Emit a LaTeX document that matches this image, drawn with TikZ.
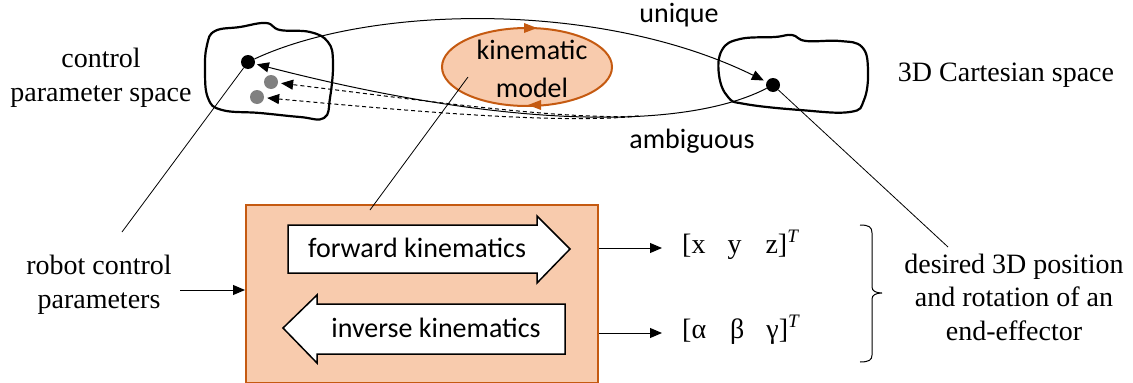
\documentclass[tikz,border=0pt]{standalone}
\usepackage{fontspec}
\setmainfont{Liberation Serif}
\newfontfamily\tnrfont{Liberation Serif}
\newfontfamily\calibri{Carlito}
\usetikzlibrary{arrows.meta,shapes.geometric}
\definecolor{peach}{HTML}{F8CBAD}
\definecolor{rust}{HTML}{C55A11}
\begin{document}
\begin{tikzpicture}[x=1pt,y=-1pt,
  tnrtext/.style={font=\tnrfont\fontsize{28}{33.5}\selectfont, align=center, inner sep=0pt},
  caltext/.style={font=\calibri\fontsize{28}{34}\selectfont, inner sep=0pt},
  blob/.style={draw, line width=2.2pt},
  thinline/.style={line width=0.8pt},
  arr/.style={line width=1pt, -{Triangle[length=12pt,width=10pt]}},
  dashedarr/.style={arr, dash pattern=on 4pt off 3pt},
  dot/.style={circle, fill=black, minimum size=14pt, inner sep=0pt},
  gdot/.style={circle, fill=gray, minimum size=14pt, inner sep=0pt},
  bigarrow/.style={draw, fill=white, line width=1.5pt, line join=miter}
]
\useasboundingbox (0,0) rectangle (1133,383);

% blobs
\draw[blob] plot[smooth cycle, tension=0.7] coordinates {(207,45) (215,31) (240,27) (266,23) (280,30) (310,32) (328,42) (333,62) (330,98) (324,118) (300,117) (260,113) (222,110) (208,98) (205,70)};
\draw[blob] plot[smooth cycle, tension=0.7] coordinates {(722,50) (740,39) (775,37) (792,35) (806,41) (840,41) (862,47) (868,70) (864,100) (850,112) (800,110) (745,104) (728,97) (719,75)};

% dots
\node[dot] (p1) at (248,62) {};
\node[gdot] (g1) at (271,82) {};
\node[gdot] (g2) at (257,97) {};
\node[dot] (p2) at (773,85) {};

% kinematic model ellipse
\node[ellipse, draw=rust, fill=peach, line width=2pt, minimum width=170pt, minimum height=78pt, inner sep=0pt] (km) at (527,67) {};
\node[caltext, align=center, font=\calibri\fontsize{28}{38}\selectfont, anchor=base] (kmt) at (532,97) {kinematic\\model};
\fill[rust] (524,23) -- (537,28) -- (524,33) -- cycle;
\fill[rust] (541,100) -- (528,105) -- (541,110) -- cycle;

% labels top
\node[tnrtext, anchor=base] (cps) at (101,101) {control\\parameter space};
\node[tnrtext, anchor=base] (cart) at (1006,81) {3D Cartesian space};
\node[caltext, anchor=base] (uniq) at (679,22) {unique};
\node[caltext, anchor=base] (amb) at (692,148) {ambiguous};

% curves
\draw[arr, shorten >=3pt] (p1) .. controls (370,5) and (600,0) .. (p2);
\draw[arr, shorten >=2pt] (p2) .. controls (690,128) and (520,132) .. (p1) coordinate[pos=0.38] (split);
\draw[dashedarr, shorten >=3pt] (split) .. controls (560,120) and (420,100) .. (g1);
\draw[dashedarr, shorten >=3pt] (split) .. controls (560,124) and (420,112) .. (g2);

% box
\node[draw=rust, fill=peach, line width=2pt, minimum width=352pt, minimum height=178pt, anchor=north west, inner sep=0pt] (box) at (245,204) {};
\draw[bigarrow] (288,225) -- (537,225) -- (537,216) -- (570,249) -- (537,283) -- (537,273) -- (288,273) -- cycle;
\draw[bigarrow] (283,328) -- (317,295) -- (317,304) -- (565,304) -- (565,354) -- (317,354) -- (317,363) -- cycle;
\node[caltext, anchor=base] (fk) at (417,257) {forward kinematics};
\node[caltext, anchor=base] (ik) at (436,337) {inverse kinematics};

% left label and input arrow
\node[tnrtext, anchor=base] (rcp) at (99,308) {robot control\\parameters};
\coordinate (inarr) at (180,290);
\draw[arr] (inarr) -- (inarr -| box.west);

% outputs
\node[tnrtext, anchor=base west] (xyz) at (682,253) {[x\hspace{22pt}y\hspace{24pt}z]\raisebox{11pt}{\fontsize{19}{19}\selectfont\itshape T}};
\node[tnrtext, anchor=base west] (abg) at (682,338) {[α\hspace{24pt}β\hspace{22pt}γ]\raisebox{11pt}{\fontsize{19}{19}\selectfont\itshape T}};
\coordinate (o1) at (662,248);
\coordinate (o2) at (662,333);
\draw[arr] (o1 -| box.east) -- (o1);
\draw[arr] (o2 -| box.east) -- (o2);

% brace
\draw[line width=1pt] (860,225) .. controls (869,225) and (872,227) .. (872,233) -- (872,287) .. controls (872,291) and (876,293) .. (882,293) .. controls (876,293) and (872,295) .. (872,299) -- (872,355) .. controls (872,360) and (869,362) .. (860,362);

\node[tnrtext, anchor=base] (des) at (1014,340) {desired 3D position\\and rotation of an\\end-effector};

% pointer lines
\coordinate (c1) at (122,232);
\draw[thinline] (c1) -- (p1);
\coordinate (c2) at (468,77);
\coordinate (c3) at (370,210);
\draw[thinline] (c2) -- (c3);
\coordinate (c4) at (948,247);
\draw[thinline] (p2) -- (c4);
\end{tikzpicture}
\end{document}
